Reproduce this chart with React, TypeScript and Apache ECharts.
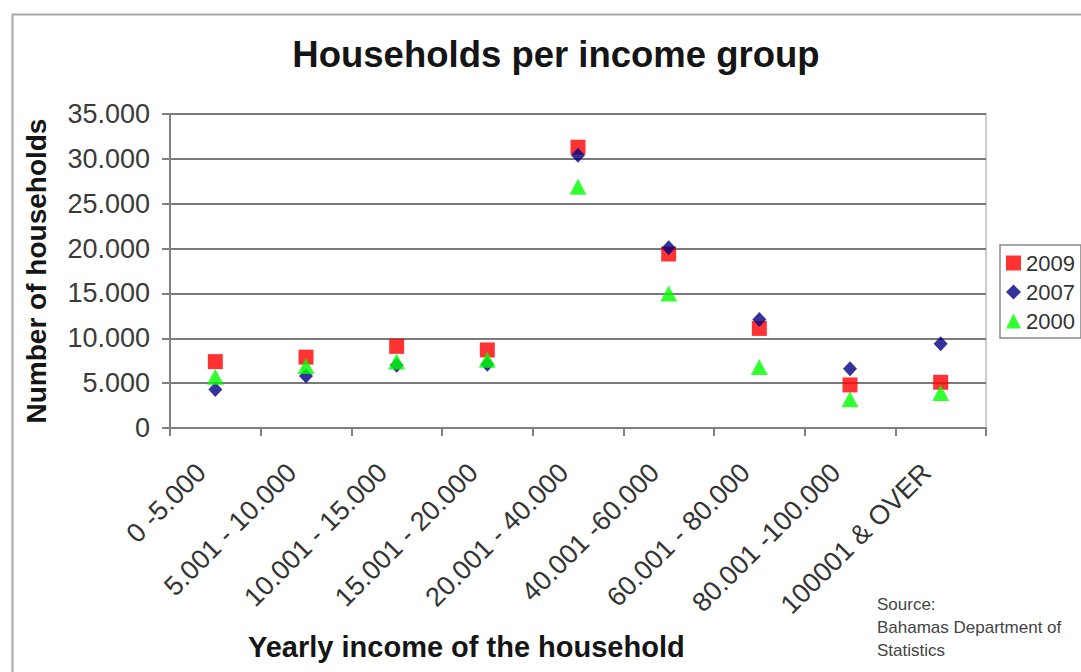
import React, { useEffect, useRef } from "react";
import * as echarts from "echarts";

// Income brackets (category axis)
const categories = [
  "0 -5.000",
  "5.001 - 10.000",
  "10.001 - 15.000",
  "15.001 - 20.000",
  "20.001 - 40.000",
  "40.001 -60.000",
  "60.001 - 80.000",
  "80.001 -100.000",
  "100001 & OVER",
];

// Number of households per bracket, by survey year
const households2009 = [7400, 7900, 9100, 8700, 31300, 19400, 11100, 4800, 5100];
const households2007 = [4300, 5800, 7000, 7100, 30400, 20100, 12100, 6600, 9400];
const households2000 = [5700, 6900, 7400, 7600, 26900, 15000, 6800, 3200, 3900];

const years = ["2009", "2007", "2000"];

const FONT = "'Liberation Sans', Arial, Helvetica, sans-serif";

const thousands = (v: number) =>
  String(v).replace(/\B(?=(\d{3})+(?!\d))/g, ".");

export default function App() {
  const ref = useRef<HTMLDivElement>(null);

  useEffect(() => {
    if (!ref.current) return;
    const chart = echarts.init(ref.current, undefined, { renderer: "svg" });

    chart.setOption({
      animation: false,
      backgroundColor: "#ffffff",
      textStyle: { fontFamily: FONT },
      title: {
        text: "Households per income group",
        left: 551,
        top: 31,
        textAlign: "center",
        textStyle: {
          fontFamily: FONT,
          fontSize: 36.5,
          fontWeight: "bold",
          color: "#151515",
        },
      },
      legend: {
        orient: "vertical",
        left: 1000,
        top: 245,
        padding: [7, 6, 6, 6],
        itemGap: 7,
        itemWidth: 15,
        itemHeight: 15,
        borderColor: "#8a8a8a",
        borderWidth: 1.5,
        data: [
          { name: years[0], icon: "rect" },
          { name: years[1], icon: "diamond" },
          { name: years[2], icon: "triangle" },
        ],
        textStyle: { fontFamily: FONT, fontSize: 22, color: "#333333" },
      },
      grid: {
        left: 170,
        top: 114,
        width: 816,
        height: 314,
        show: true,
        borderColor: "#bdbdbd",
        borderWidth: 1.5,
      },
      xAxis: {
        type: "category",
        data: categories,
        boundaryGap: true,
        axisLine: { lineStyle: { color: "#808080", width: 2 } },
        axisTick: {
          show: true,
          interval: 0,
          length: 8,
          lineStyle: { color: "#808080", width: 2 },
        },
        axisLabel: {
          interval: 0,
          rotate: 45,
          margin: 26,
          padding: [0, 20, 0, 0],
          fontFamily: FONT,
          fontSize: 27,
          color: "#333333",
        },
      },
      yAxis: {
        type: "value",
        min: 0,
        max: 35000,
        interval: 5000,
        name: "Number of households",
        nameLocation: "middle",
        nameRotate: 90,
        nameGap: 120,
        nameTextStyle: {
          fontFamily: FONT,
          fontSize: 28,
          fontWeight: "bold",
          color: "#151515",
        },
        axisLine: { show: true, lineStyle: { color: "#808080", width: 2 } },
        axisTick: { show: true, length: 8, lineStyle: { color: "#808080", width: 2 } },
        axisLabel: {
          margin: 20,
          fontFamily: FONT,
          fontSize: 27,
          color: "#3a3a3a",
          formatter: (v: number) => thousands(v),
        },
        splitLine: { lineStyle: { color: "#7a7a7a", width: 2 } },
      },
      graphic: [
        {
          type: "rect",
          left: 10,
          top: 12,
          shape: { width: 1200, height: 800 },
          style: { fill: "none", stroke: "#a8a8a8", lineWidth: 2 },
          silent: true,
        },
        {
          type: "text",
          left: 248,
          top: 632,
          style: {
            text: "Yearly income of the household",
            fontFamily: FONT,
            fontSize: 29,
            fontWeight: "bold",
            fill: "#151515",
          },
        },
        {
          type: "text",
          left: 877,
          top: 593,
          style: {
            text: "Source:\nBahamas Department of\nStatistics",
            fontFamily: FONT,
            fontSize: 17,
            lineHeight: 23,
            fill: "#444444",
          },
        },
      ],
      series: [
        {
          name: years[0],
          type: "scatter",
          symbol: "rect",
          symbolSize: 15,
          itemStyle: { color: "#ff0000" },
          data: households2009,
          z: 2,
        },
        {
          name: years[1],
          type: "scatter",
          symbol: "diamond",
          symbolSize: [14, 15],
          itemStyle: { color: "#000080" },
          data: households2007,
          z: 3,
        },
        {
          name: years[2],
          type: "scatter",
          symbol: "triangle",
          symbolSize: [17, 16],
          itemStyle: { color: "#00ff00" },
          data: households2000,
          z: 4,
        },
      ],
    });

    return () => chart.dispose();
  }, []);

  return (
    <div
      ref={ref}
      style={{
        position: "absolute",
        left: 0,
        top: 0,
        width: 1081,
        height: 672,
        background: "#ffffff",
      }}
    />
  );
}
